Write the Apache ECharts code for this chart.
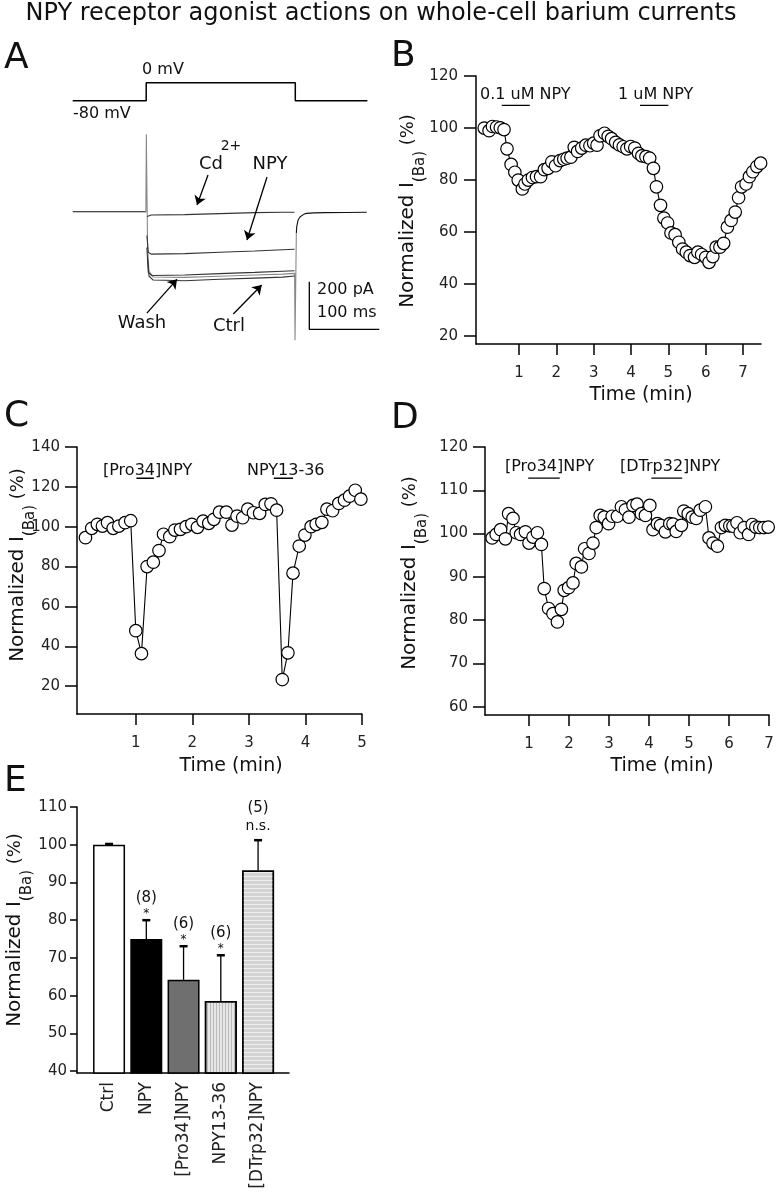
<!DOCTYPE html>
<html><head><meta charset="utf-8">
<script src="https://cdn.jsdelivr.net/npm/echarts@6/dist/echarts.min.js"></script>
<style>html,body{margin:0;padding:0;background:#fff}#c{width:778px;height:1200px}</style>
</head><body><div id="c"></div>
<script>
// ---------- Panel A : voltage protocol (ms, mV) ----------
const vTime = [0, 105, 105, 318, 318, 421];
const vVolt = [-80, -80, 0, 0, -80, -80];
// ---------- Panel A : current traces (ms, pA) ----------
const holdTime = [0, 105, '-', 319.5, 320, 322, 325, 330, 334, 345, 360, 390, 420];
const holdCur  = [0, 0, '-', -90, -63, -35, -21, -11, -7, -5, -4, -3, -2];
const cdTime = [106.5, 112, 160, 210, 260, 300, 317];
const cdCur  = [-20, -14, -12, -8, -4, -2, -2];
const npyTime = [106, 108, 112, 160, 210, 260, 300, 317];
const npyCur  = [-100, -170, -178, -176, -170, -165, -160, -158];
const ctrlTime = [106, 108, 113, 160, 210, 260, 300, 317];
const ctrlCur  = [-150, -255, -268, -266, -260, -255, -250, -248];
const washTime = [104.5, 105.2, 106, 107, 109, 115, 160, 210, 260, 300, 317, 317.6, 318.4, 319.5];
const washCur  = [0, 325, 100, -150, -250, -274, -276, -271, -266, -262, -259, -540, -540, -90];
const thirdTime = [107, 109, 115, 160, 210, 260, 300, 317];
const thirdCur  = [-200, -270, -287, -290, -284, -279, -275, -270];
const scaleBarTime = [338, 338, 438];
const scaleBarCur  = [-294, -494, -494];
// ---------- Panel B ----------
const bTime = [0.07,0.2,0.29,0.4,0.5,0.6,0.68,0.79,0.89,0.98,1.09,1.16,1.25,1.36,1.47,1.58,1.68,1.78,1.88,1.98,2.1,2.2,2.29,2.39,2.48,2.57,2.68,2.79,2.9,3.0,3.09,3.17,3.29,3.39,3.48,3.59,3.69,3.79,3.89,3.99,4.1,4.2,4.29,4.4,4.5,4.6,4.68,4.79,4.88,4.98,5.07,5.18,5.28,5.38,5.48,5.58,5.7,5.79,5.89,6.0,6.09,6.19,6.28,6.38,6.48,6.58,6.68,6.79,6.88,6.96,7.08,7.17,7.26,7.37,7.47];
const bVal = [100,99,100.6,100.4,100.1,99.4,92,86,83,80,76.6,78.5,80,81,81.3,81.3,84,84.5,87,85.5,87.5,88,88.4,88.8,92.6,91,92.3,93.4,93.2,94.2,93.4,97,98,96.8,95.9,94.5,93.5,92.8,92,92.9,92.3,90.3,89.3,89,88.4,84.5,77.4,70.3,65.4,63.5,59.7,59,56.1,53.5,52.3,51,50.3,52.3,51.4,50.3,48.4,50.6,54.2,54.2,55.7,61.9,64.5,67.7,73.2,77.4,78.5,81.3,83.2,85.2,86.5];
const bDrugStart = [0.54, 4.24];
const bDrugEnd = [1.29, 5.0];
const bDrugLevel = 108.7;
const bDrugLabels = ['0.1 uM NPY', '1 uM NPY'];
// ---------- Panel C ----------
const cTime = [0.11,0.22,0.32,0.41,0.5,0.6,0.7,0.81,0.91,1.0,1.1,1.2,1.31,1.41,1.49,1.6,1.69,1.79,1.89,1.99,2.09,2.19,2.29,2.38,2.48,2.6,2.7,2.79,2.89,2.98,3.08,3.19,3.29,3.39,3.49,3.59,3.69,3.78,3.89,3.99,4.1,4.19,4.29,4.38,4.48,4.59,4.69,4.78,4.88,4.98];
const cVal = [94.5,99.2,101.2,100.3,102,99.2,100.3,102,103,47.8,36.3,80,82.2,88,96.2,95,98.3,98.7,100,101.2,99.7,102.8,101.7,103.7,107.3,107.3,100.8,105.3,104.5,108.8,107,106.7,111.2,111.5,108.3,23.3,36.7,76.7,90.3,95.8,100,101.2,102.2,108.8,108,111.7,113.3,115.3,118.3,113.8];
const cDrugStart = [1.01, 3.44];
const cDrugEnd = [1.32, 3.78];
const cDrugLevel = 124.3;
const cDrugLabels = ['[Pro34]NPY', 'NPY13-36'];
// ---------- Panel D ----------
const dTime = [0.08,0.18,0.29,0.41,0.49,0.6,0.68,0.79,0.91,1.0,1.1,1.21,1.31,1.38,1.49,1.6,1.71,1.81,1.88,1.99,2.1,2.18,2.31,2.39,2.5,2.6,2.68,2.78,2.88,2.99,3.08,3.21,3.31,3.41,3.5,3.6,3.7,3.81,3.91,4.02,4.1,4.21,4.29,4.41,4.52,4.6,4.68,4.81,4.87,4.98,5.08,5.18,5.28,5.41,5.5,5.6,5.71,5.81,5.91,6.02,6.1,6.2,6.28,6.38,6.49,6.58,6.67,6.77,6.87,6.98];
const dVal = [99,99.8,100.9,98.8,104.6,103.5,100.2,99.8,100.4,97.8,99.2,100.2,97.5,87.3,82.7,81.5,79.6,82.5,86.9,87.5,88.6,93.1,92.3,96.5,95.4,97.8,101.4,104.2,103.8,102.3,104,104,106.2,105.5,103.8,106.5,106.8,104.6,104.2,106.5,100.9,102.3,101.9,100.4,102.3,102.2,100.5,101.9,105.2,104.6,103.8,103.5,105.4,106.2,99,97.8,97.1,101.4,101.9,101.8,101.7,102.5,100.2,101.4,99.8,102.1,101.5,101.4,101.4,101.5];
const dDrugStart = [0.98, 4.06];
const dDrugEnd = [1.77, 4.83];
const dDrugLevel = 112.8;
const dDrugLabels = ['[Pro34]NPY', '[DTrp32]NPY'];
// ---------- Panel E ----------
const eCats = ['Ctrl', 'NPY', '[Pro34]NPY', 'NPY13-36', '[DTrp32]NPY'];
const eMean = [100, 75, 64.2, 58.6, 93.2];
const eErrTop = [100.2, 80, 73.1, 70.7, 101.2];
const eN = ['', '(8)', '(6)', '(6)', '(5)'];
const eSig = ['', '*', '*', '*', 'n.s.'];
const eColors = ['#ffffff', '#000000', '#6f6f6f', '#e6e6e6', '#d4d4d4'];
// tick labels
const bXTicks = [1,2,3,4,5,6,7], bYTicks = [20,40,60,80,100,120];
const cXTicks = [1,2,3,4,5], cYTicks = [20,40,60,80,100,120,140];
const dXTicks = [1,2,3,4,5,6,7], dYTicks = [60,70,80,90,100,110,120];
const eYTicks = [40,50,60,70,80,90,100,110];

const FONT = 'DejaVu Sans';
const zip = (a, b) => a.map((x, i) => [x, b[i]]);

function xAx(grid, min, max, ticks) {
  return {type:'value', gridIndex:grid, min, max,
    axisLine:{onZero:false, lineStyle:{color:'#000', width:1.5}},
    axisTick:{show:true, customValues:ticks, length:11, lineStyle:{color:'#000', width:1.5}},
    axisLabel:{customValues:ticks, color:'#222', fontSize:15, fontFamily:FONT, margin:22},
    splitLine:{show:false}};
}
function yAx(grid, min, max, ticks, tl, mg) {
  return {type:'value', gridIndex:grid, min, max,
    axisLine:{onZero:false, lineStyle:{color:'#000', width:1.5}},
    axisTick:{show:true, customValues:ticks, length:tl, lineStyle:{color:'#000', width:1.5}},
    axisLabel:{customValues:ticks, color:'#222', fontSize:15, fontFamily:FONT, margin:mg},
    splitLine:{show:false}};
}
const hidden = (grid, min, max) => ({type:'value', gridIndex:grid, min, max, show:false, splitLine:{show:false}});

function scatterLine(xi, t, v) {
  return {type:'line', xAxisIndex:xi, yAxisIndex:xi, data:zip(t, v), symbol:'circle', symbolSize:12.5,
    itemStyle:{color:'#fff', borderColor:'#000', borderWidth:1.2},
    lineStyle:{color:'#000', width:1.1}, z:3};
}
function drugBars(xi, s, e, lvl) {
  return s.map((x, i) => ({type:'line', xAxisIndex:xi, yAxisIndex:xi, data:[[x, lvl], [e[i], lvl]],
    symbol:'none', lineStyle:{color:'#000', width:1.4}}));
}
function trace(t, c, color) {
  return {type:'line', xAxisIndex:1, yAxisIndex:1, data:zip(t, c), symbol:'none', connectNulls:false,
    lineStyle:{color, width:1.1}};
}

const txt = (text, x, y, size, align, extra) => Object.assign({type:'text', x, y,
  style:{text, fontSize:size, fontFamily:FONT, fill:'#111', align:align || 'left', verticalAlign:'middle'}}, extra || {});
const yName = (x, y) => ({type:'text', x, y, rotation:Math.PI/2,
  style:{text:'{a|Normalized I}{b|(Ba)}{c| (%)}', align:'center', verticalAlign:'middle', fill:'#111',
    rich:{a:{fontSize:20, fontFamily:FONT, lineHeight:40, verticalAlign:'middle', fill:'#111'},
          b:{fontSize:15, fontFamily:FONT, lineHeight:16, verticalAlign:'bottom', fill:'#111'},
          c:{fontSize:18, fontFamily:FONT, lineHeight:40, verticalAlign:'middle', fill:'#111'}}}});

const graphics = [
  txt('NPY receptor agonist actions on whole-cell barium currents', 381, 14, 24, 'center'),
  txt('A', 4, 59, 36), txt('B', 391, 57, 36), txt('C', 4, 417, 36), txt('D', 391, 419, 36), txt('E', 4, 782, 36),
  // panel A labels
  txt('0 mV', 163, 70, 16, 'center'), txt('-80 mV', 73, 114, 16),
  txt('Cd', 211, 164, 18, 'center'), txt('2+', 231, 146, 14, 'center'), txt('NPY', 270, 164, 18, 'center'),
  txt('Wash', 142, 323, 18, 'center'), txt('Ctrl', 229, 326, 18, 'center'),
  txt('200 pA', 317, 290, 16), txt('100 ms', 317, 313, 16),
  // drug labels
  txt(bDrugLabels[0], 480, 95, 16), txt(bDrugLabels[1], 618, 95, 16),
  txt(cDrugLabels[0], 103, 471, 16), txt(cDrugLabels[1], 247, 471, 16),
  txt(dDrugLabels[0], 505, 467, 16), txt(dDrugLabels[1], 620, 467, 16),
  // axis names
  yName(408, 211), yName(18, 565), yName(410, 573), yName(15, 930),
  txt('Time (min)', 641, 395, 19, 'center'), txt('Time (min)', 231, 766, 19, 'center'), txt('Time (min)', 662, 766, 19, 'center')
];

const eBars = eMean.map((v, i) => {
  const it = {value:[i, v], itemStyle:{color:eColors[i]}};
  if (i === 3) it.itemStyle.decal = {symbol:'rect', symbolSize:1, color:'rgba(150,150,150,0.55)', dashArrayX:[1, 2], dashArrayY:[20, 0]};
  if (i === 4) it.itemStyle.decal = {symbol:'rect', symbolSize:1, color:'rgba(255,255,255,0.6)', dashArrayX:[20, 0], dashArrayY:[1, 3]};
  return it;
});
const eErr = eMean.map((v, i) => [i, v, eErrTop[i], i]);

const option = {
  animation:false,
  grid:[
    {left:72.7, top:64.7, width:308, height:54},
    {left:72.7, top:130.8, width:308, height:214.2},
    {left:476, top:76, width:285, height:268},
    {left:77, top:447, width:285, height:267},
    {left:485, top:447, width:284, height:268},
    {left:77, top:807, width:212, height:266}
  ],
  xAxis:[hidden(0, 0, 440), hidden(1, 0, 440),
    xAx(2, -0.15, 7.48, bXTicks), xAx(3, -0.04, 5, cXTicks), xAx(4, -0.1, 7, dXTicks),
    {type:'value', gridIndex:5, min:-0.86, max:4.83,
      axisLine:{onZero:false, lineStyle:{color:'#000', width:1.5}}, axisTick:{show:false},
      axisLabel:{customValues:[0,1,2,3,4], formatter:v => eCats[Math.round(v)], rotate:90, color:'#222', fontSize:17, fontFamily:FONT, margin:9},
      splitLine:{show:false}}],
  yAxis:[hidden(0, -160, 80), hidden(1, -560, 340),
    yAx(2, 17, 120, bYTicks, 12, 18), yAx(3, 6, 140, cYTicks, 12, 17), yAx(4, 58.1, 120, dYTicks, 12, 17),
    yAx(5, 39.5, 110, eYTicks, 7, 10)],
  graphic:graphics,
  series:[
    {type:'line', xAxisIndex:0, yAxisIndex:0, data:zip(vTime, vVolt), symbol:'none', lineStyle:{color:'#000', width:1.5}},
    trace(holdTime, holdCur, '#111'),
    trace(washTime, washCur, '#888'),
    trace(cdTime, cdCur, '#333'),
    trace(npyTime, npyCur, '#333'),
    trace(ctrlTime, ctrlCur, '#333'),
    trace(thirdTime, thirdCur, '#333'),
    {type:'line', xAxisIndex:1, yAxisIndex:1, data:zip(scaleBarTime, scaleBarCur), symbol:'none',
      lineStyle:{color:'#000', width:1.3},
      markLine:{silent:true, symbol:['none', 'arrow'], symbolSize:9, label:{show:false},
        lineStyle:{color:'#000', width:1.3, type:'solid'},
        data:[
          [{coord:[193.3, 154]}, {coord:[177.6, 28]}],
          [{coord:[277.6, 146]}, {coord:[249, -119]}],
          [{coord:[106, -426]}, {coord:[149, -284]}],
          [{coord:[229.4, -430]}, {coord:[270, -308]}]
        ]}},
    scatterLine(2, bTime, bVal), ...drugBars(2, bDrugStart, bDrugEnd, bDrugLevel),
    scatterLine(3, cTime, cVal), ...drugBars(3, cDrugStart, cDrugEnd, cDrugLevel),
    scatterLine(4, dTime, dVal), ...drugBars(4, dDrugStart, dDrugEnd, dDrugLevel),
    {type:'bar', xAxisIndex:5, yAxisIndex:5, data:eBars, barWidth:32,
      itemStyle:{borderColor:'#000', borderWidth:1.5}},
    {type:'custom', xAxisIndex:5, yAxisIndex:5, data:eErr, z:5,
      renderItem:function(params, api){
        const i = api.value(3);
        const p1 = api.coord([api.value(0), api.value(1)]);
        const p2 = api.coord([api.value(0), api.value(2)]);
        const ch = [
          {type:'line', shape:{x1:p1[0], y1:p1[1], x2:p2[0], y2:p2[1]}, style:{stroke:'#000', lineWidth:1.3}},
          {type:'line', shape:{x1:p2[0]-4, y1:p2[1], x2:p2[0]+4, y2:p2[1]}, style:{stroke:'#000', lineWidth:2.5}}
        ];
        if (eN[i]) {
          const star = eSig[i] === '*';
          ch.push({type:'text', x:p2[0], y:p2[1] - (star ? 22 : 32), style:{text:eN[i], fontSize:15, fontFamily:FONT, fill:'#111', align:'center', verticalAlign:'middle'}});
          ch.push({type:'text', x:p2[0], y:p2[1] - (star ? 6 : 14), style:{text:eSig[i], fontSize:star ? 12 : 14, fontFamily:FONT, fill:'#111', align:'center', verticalAlign:'middle'}});
        }
        return {type:'group', children:ch};
      }}
  ]
};
echarts.init(document.getElementById('c'), null, {renderer:'canvas'}).setOption(option);
</script></body></html>
